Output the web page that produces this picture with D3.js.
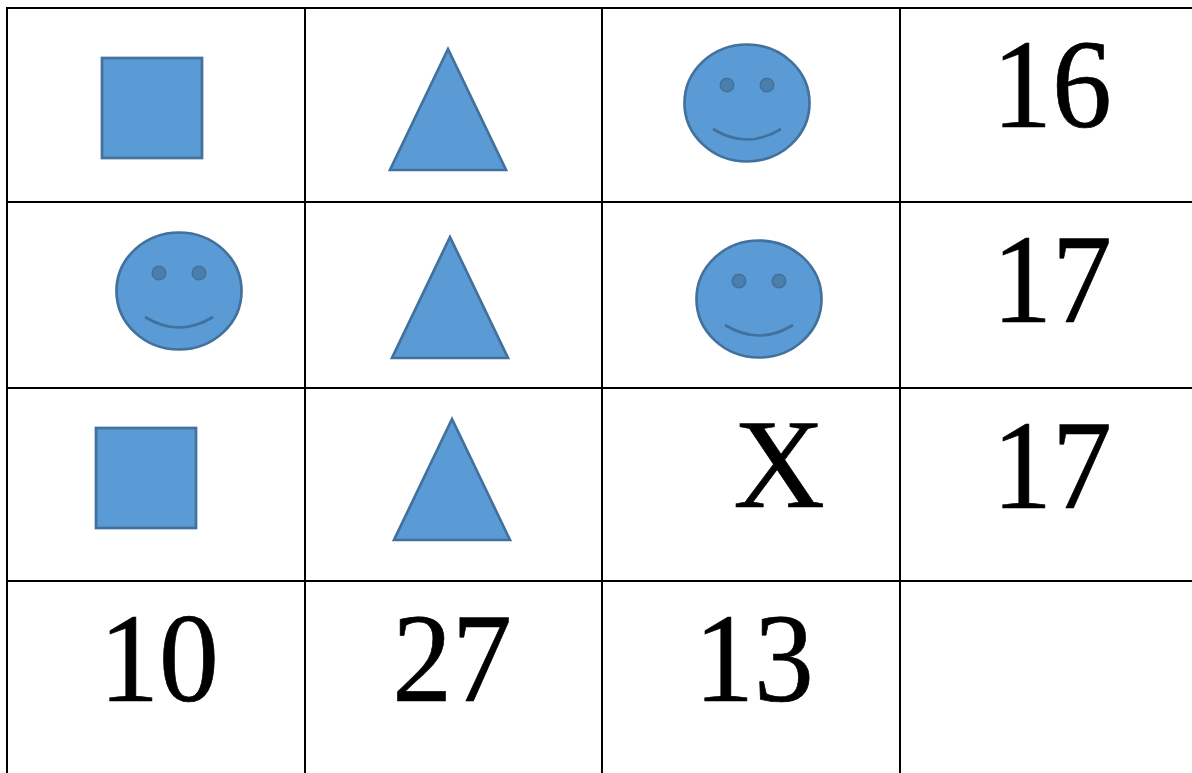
<!DOCTYPE html>
<html>
<head>
<meta charset="utf-8">
<script src="https://cdn.jsdelivr.net/npm/d3@7"></script>
<style>
html, body { margin: 0; padding: 0; background: #fff; overflow: hidden; }
svg { display: block; }
text { font-family: "Liberation Serif", serif; }
</style>
</head>
<body>
<svg id="viz"></svg>
<script>
var width = 1192;
var height = 773;

// what is in each cell, row by row
var rowOne = ["square", "triangle", "smile", "16"];
var rowTwo = ["smile", "triangle", "smile", "17"];
var rowThree = ["square", "triangle", "X", "17"];
var rowFour = ["10", "27", "13", ""];
var rows = [rowOne, rowTwo, rowThree, rowFour];

// grid lines
var colEdges = [7, 305, 602, 900];
var rowEdges = [8, 202, 388, 581];

// where the thing sits inside its cell, measured from the cell corner
var cellAnchorX = [
    [145, 143, 145, 152],
    [172, 145, 157, 152],
    [139, 147, 177, 152],
    [152, 147, 152, 0]
];
var cellAnchorY = [
    [100, 101, 95, 119],
    [89, 95, 97, 119.5],
    [90, 91, 119.3, 119.5],
    [120, 120, 120, 0]
];

var x = d3.scaleOrdinal().domain(d3.range(colEdges.length)).range(colEdges);
var y = d3.scaleOrdinal().domain(d3.range(rowEdges.length)).range(rowEdges);

var fill = "#5b9bd5";
var edge = "#41719c";
var eyeFill = "#4a7ead";

var svg = d3.select("#viz")
    .attr("width", width)
    .attr("height", height);

svg.append("rect")
    .attr("width", width)
    .attr("height", height)
    .attr("fill", "#fff");

var cells = [];
rows.forEach(function(row, r) {
    row.forEach(function(value, c) {
        cells.push({ value: value, r: r, c: c });
    });
});

var g = svg.selectAll("g.cell")
    .data(cells)
    .enter().append("g")
    .attr("class", "cell")
    .attr("transform", function(d) {
        return "translate(" + (x(d.c) + cellAnchorX[d.r][d.c]) + "," + (y(d.r) + cellAnchorY[d.r][d.c]) + ")";
    });

g.filter(function(d) { return d.value === "square"; })
    .append("rect")
    .attr("x", -50)
    .attr("y", -50)
    .attr("width", 100)
    .attr("height", 100)
    .attr("fill", fill)
    .attr("stroke", edge)
    .attr("stroke-width", 2.7);

g.filter(function(d) { return d.value === "triangle"; })
    .append("path")
    .attr("d", "M0,-60L58,61L-58,61Z")
    .attr("fill", fill)
    .attr("stroke", edge)
    .attr("stroke-width", 2.7)
    .attr("stroke-linejoin", "miter");

var smiles = g.filter(function(d) { return d.value === "smile"; });

smiles.append("ellipse")
    .attr("rx", 62.5)
    .attr("ry", 58.5)
    .attr("fill", fill)
    .attr("stroke", edge)
    .attr("stroke-width", 2.7);

smiles.selectAll("circle")
    .data([-20, 20])
    .enter().append("circle")
    .attr("cx", function(d) { return d; })
    .attr("cy", -18)
    .attr("r", 6.8)
    .attr("fill", eyeFill)
    .attr("stroke", edge)
    .attr("stroke-width", 1.5);

smiles.append("path")
    .attr("d", "M-34,26Q0,47 34,26")
    .attr("fill", "none")
    .attr("stroke", edge)
    .attr("stroke-width", 2.7);

// digits are narrower than the font's own, so squeeze them a little
g.filter(function(d) { return d.value !== "square" && d.value !== "triangle" && d.value !== "smile"; })
    .append("text")
    .attr("text-anchor", "middle")
    .attr("font-size", function(d) { return d.value === "X" ? 127 : 126; })
    .attr("transform", function(d) { return d.value === "X" ? null : "scale(0.95,1)"; })
    .attr("fill", "#000")
    .attr("stroke", "#000")
    .attr("stroke-width", 0.7)
    .text(function(d) { return d.value; });

svg.selectAll("line.v")
    .data(colEdges)
    .enter().append("line")
    .attr("class", "v")
    .attr("x1", function(d) { return d; })
    .attr("x2", function(d) { return d; })
    .attr("y1", rowEdges[0] - 1)
    .attr("y2", height)
    .attr("stroke", "#000")
    .attr("stroke-width", 2);

svg.selectAll("line.h")
    .data(rowEdges)
    .enter().append("line")
    .attr("class", "h")
    .attr("x1", colEdges[0] - 1)
    .attr("x2", width)
    .attr("y1", function(d) { return d; })
    .attr("y2", function(d) { return d; })
    .attr("stroke", "#000")
    .attr("stroke-width", 2);
</script>
</body>
</html>
